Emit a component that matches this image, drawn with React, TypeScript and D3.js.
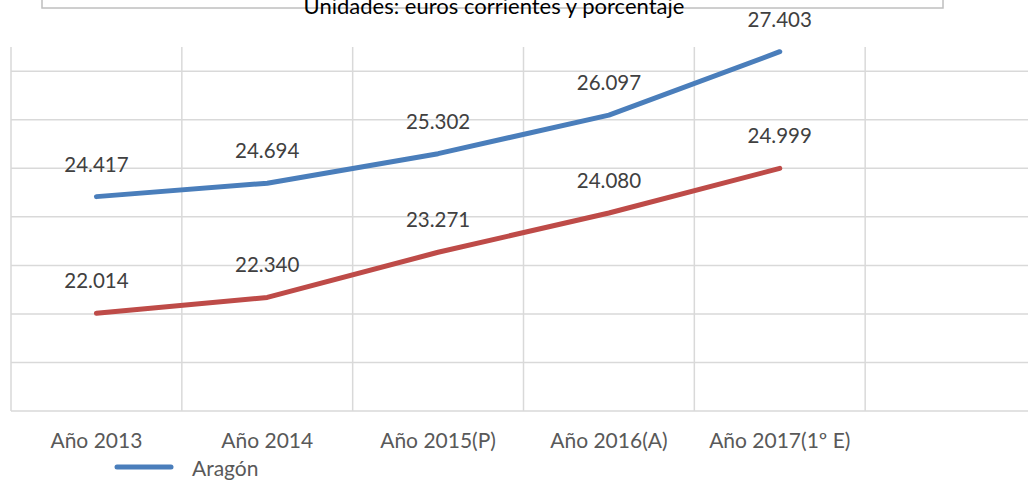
import React from 'react';
import * as d3 from 'd3';

const categories = ['Año 2013', 'Año 2014', 'Año 2015(P)', 'Año 2016(A)', 'Año 2017(1º E)'];
const aragon = [24417, 24694, 25302, 26097, 27403];
const espana = [22014, 22340, 23271, 24080, 24999];
const gridTicks = [20000, 21000, 22000, 23000, 24000, 25000, 26000, 27000];
const title = 'Unidades: euros corrientes y porcentaje';

const W = 1028;
const H = 482;
const FONT = 'Lato, "Noto Sans", sans-serif';

const fmt = (v: number) => d3.format(',')(v).replace(/,/g, '.');

const App = () => {
  // sexta categoría vacía, como en la hoja original
  const x = d3.scaleBand<string>().domain([...categories, '']).range([11, 1036]).padding(0);
  const y = d3.scaleLinear().domain([20000, 27500]).range([411, 47]);
  const cx = (c: string) => (x(c) as number) + x.bandwidth() / 2;

  const line = d3
    .line<number>()
    .x((d, i) => cx(categories[i]))
    .y((d) => y(d));

  const series = [
    { name: 'Aragón', values: aragon, color: '#4a7ebb' },
    { name: 'España', values: espana, color: '#be4b48' },
  ];

  const bounds = [...x.domain().map((c) => x(c) as number), x.range()[1]];

  return (
    <svg width={W} height={H} style={{ position: 'absolute', left: 0, top: 0, background: '#fff' }} fontFamily={FONT}>
      <rect x={42} y={-20} width={901} height={28} fill="#fff" stroke="#bfbfbf" strokeWidth={1.5} />
      <text x={494} y={14} textAnchor="middle" fontSize={22} fill="#000">
        {title}
      </text>

      <g stroke="#d9d9d9" strokeWidth={1.5}>
        {gridTicks.map((t) => (
          <line key={t} x1={11} x2={x.range()[1]} y1={y(t)} y2={y(t)} />
        ))}
        {bounds.map((b, i) => (
          <line key={i} x1={b} x2={b} y1={y(27500)} y2={y(20000)} />
        ))}
      </g>

      {series.map((s) => (
        <path
          key={s.name}
          d={line(s.values) as string}
          fill="none"
          stroke={s.color}
          strokeWidth={5}
          strokeLinecap="round"
          strokeLinejoin="round"
        />
      ))}

      {series.map((s) =>
        s.values.map((v, i) => (
          <text
            key={s.name + i}
            x={cx(categories[i])}
            y={y(v) - 25}
            textAnchor="middle"
            fontSize={20.5}
            fill="#404040"
          >
            {fmt(v)}
          </text>
        ))
      )}

      {categories.map((c) => (
        <text key={c} x={cx(c)} y={448} textAnchor="middle" fontSize={21} fill="#595959">
          {c}
        </text>
      ))}

      <line x1={117} x2={171} y1={467} y2={467} stroke={series[0].color} strokeWidth={5} strokeLinecap="round" />
      <text x={192} y={476} fontSize={21} fill="#595959">
        {series[0].name}
      </text>
    </svg>
  );
};

export default App;
